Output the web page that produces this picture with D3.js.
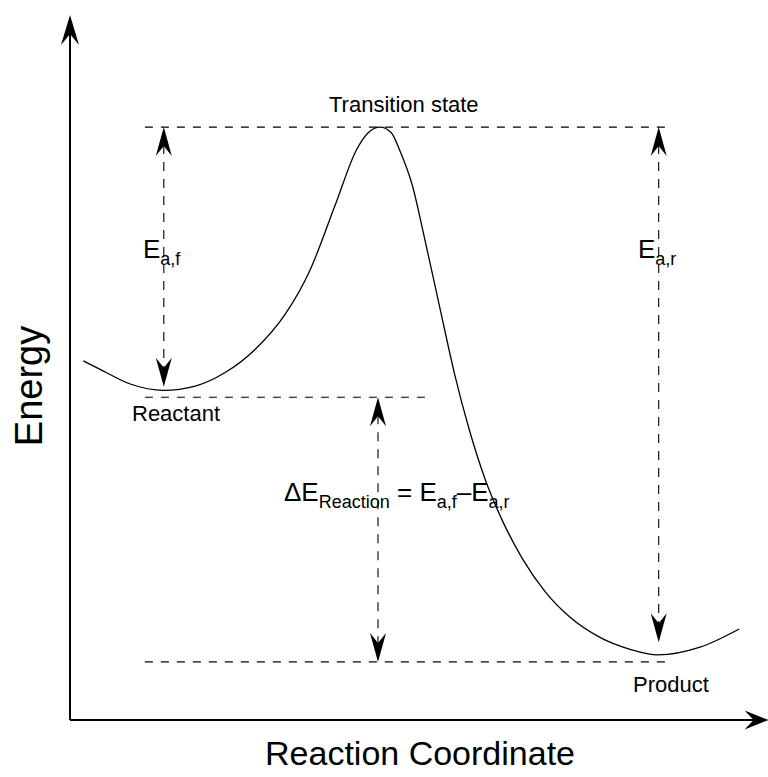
<!DOCTYPE html>
<html><head><meta charset="utf-8">
<script src="https://cdn.jsdelivr.net/npm/d3@7"></script>
<style>html,body{margin:0;padding:0;background:#fff}svg{display:block}text{font-family:"Liberation Sans",Arial,sans-serif;fill:#000}</style>
</head><body>
<script>
// Reaction coordinate (x) and energy (y) in arbitrary units 0..100
const curveX = [1.9, 4.3, 8.6, 13.4, 17.9, 22.1, 26.4, 30.7, 34.3, 37.9, 40.9, 42.6, 44.3, 45.9, 47.1, 48.9, 50.7, 52.9, 54.9, 57.0, 59.3, 61.9, 64.6, 67.9, 71.4, 75.7, 80.0, 84.0, 90.0, 95.6];
const curveE = [51.3, 50.1, 48.0, 47.1, 47.7, 49.6, 52.9, 57.9, 64.3, 73.6, 81.4, 83.9, 84.7, 83.9, 81.4, 76.4, 68.6, 58.6, 49.6, 41.6, 34.4, 28.2, 23.1, 18.3, 14.7, 11.8, 10.1, 9.3, 10.4, 13.0];
// Reference energy levels (dashed lines)
const levelNames = ["transition", "reactant", "product"];
const levelE = [84.7, 46.1, 8.3];
const levelX0 = [10.7, 10.7, 10.7];
const levelX1 = [86.0, 51.7, 86.0];
// Double-headed dashed arrows: x, energy top, energy bottom
const arrowNames = ["Ea,f", "dE", "Ea,r"];
const arrowX = [13.4, 44.0, 84.1];
const arrowTop = [84.7, 46.1, 84.7];
const arrowBottom = [47.6, 8.3, 11.1];

const W = 768, H = 777;
const x = d3.scaleLinear().domain([0, 100]).range([70, 770]);
const y = d3.scaleLinear().domain([0, 100]).range([720, 20]);

const svg = d3.select("body").append("svg").attr("width", W).attr("height", H);

function arrowHead(tx, ty, angle, L, Wd, N) {
  const c = Math.cos(angle), s = Math.sin(angle);
  const pt = (a, b) => [tx + a * c - b * s, ty + a * s + b * c];
  const p = [pt(0, 0), pt(-L, Wd / 2), pt(-N, 0), pt(-L, -Wd / 2)];
  svg.append("path").attr("d", "M" + p.map(q => q.join(",")).join("L") + "Z").attr("fill", "#000");
}

// Axes
svg.append("line").attr("x1", x(0)).attr("y1", y(0)).attr("x2", x(0)).attr("y2", y(99)).attr("stroke", "#000").attr("stroke-width", 2);
svg.append("line").attr("x1", x(0)).attr("y1", y(0)).attr("x2", x(98.5)).attr("y2", y(0)).attr("stroke", "#000").attr("stroke-width", 2);
arrowHead(x(0), y(100.7), -Math.PI / 2, 30, 18, 19);
arrowHead(x(99.8), y(0), 0, 24, 19, 15);

// Dashed levels
levelE.forEach((e, i) => {
  svg.append("line").attr("x1", x(levelX0[i])).attr("x2", x(levelX1[i]))
    .attr("y1", y(e)).attr("y2", y(e))
    .attr("stroke", "#000").attr("stroke-width", 1.1).attr("stroke-dasharray", "8,8");
});

// Dashed double arrows
arrowX.forEach((ax, i) => {
  const yt = y(arrowTop[i]), yb = y(arrowBottom[i]);
  svg.append("line").attr("x1", x(ax)).attr("x2", x(ax)).attr("y1", yt + 18).attr("y2", yb - 18)
    .attr("stroke", "#000").attr("stroke-width", 1.1).attr("stroke-dasharray", "9,8");
  arrowHead(x(ax), yt, -Math.PI / 2, 29, 16, 19);
  arrowHead(x(ax), yb, Math.PI / 2, 29, 16, 19);
});

// Energy curve
const pts = curveX.map((v, i) => [v, curveE[i]]);
svg.append("path").datum(pts)
  .attr("d", d3.line().x(d => x(d[0])).y(d => y(d[1])).curve(d3.curveMonotoneX))
  .attr("fill", "none").attr("stroke", "#000").attr("stroke-width", 1.3);

// Labels
svg.append("text").attr("x", 329).attr("y", 112).attr("font-size", 22).text("Transition state");
svg.append("text").attr("x", 132).attr("y", 421).attr("font-size", 22).text("Reactant");
svg.append("text").attr("x", 633).attr("y", 692).attr("font-size", 22).text("Product");

function sub(x0, y0, parts) {
  const tx = svg.append("text").attr("x", x0).attr("y", y0).attr("font-size", 26);
  parts.forEach(p => {
    const ts = tx.append("tspan").text(p[0]);
    if (p[1]) ts.attr("font-size", 18).attr("dy", 7);
    else if (p[2]) ts.attr("dy", -7);
  });
  return tx;
}
sub(143, 258, [["E"], ["a,f", true]]);
sub(638, 258, [["E"], ["a,r", true]]);
sub(284, 501, [["ΔE"], ["Reaction", true], [" = E", false, true], ["a,f", true], ["–E", false, true], ["a,r", true]]);

svg.append("text").attr("transform", "translate(42,386) rotate(-90)").attr("text-anchor", "middle").attr("font-size", 38).text("Energy");
svg.append("text").attr("x", 420).attr("y", 765).attr("text-anchor", "middle").attr("font-size", 34).text("Reaction Coordinate");
</script>
</body></html>
